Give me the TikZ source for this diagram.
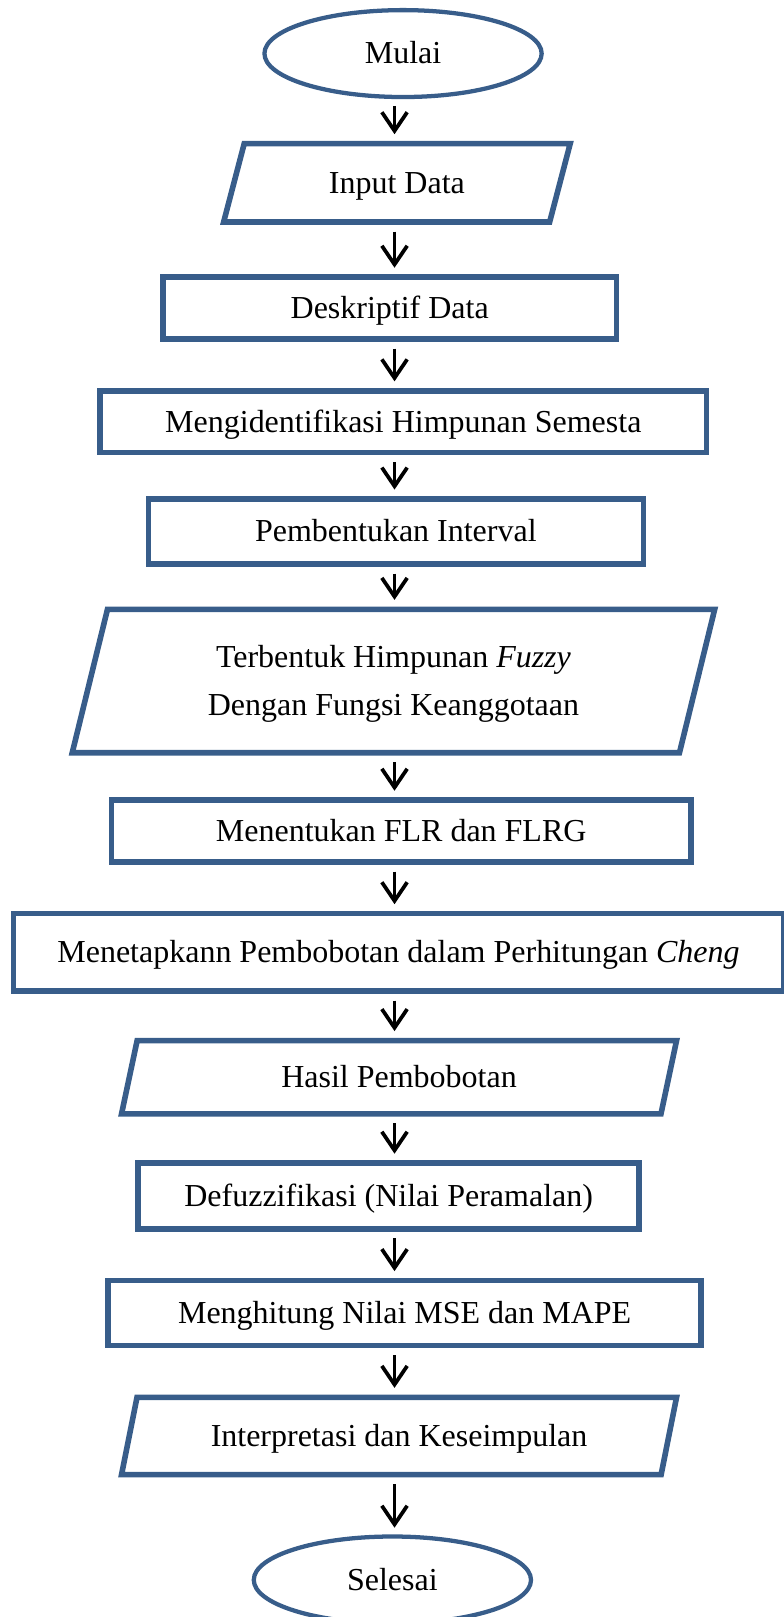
\documentclass[tikz,border=0pt]{standalone}
\usepackage{fontspec}
\setmainfont{Liberation Serif}
\usetikzlibrary{positioning, shapes.geometric, arrows.meta}
\definecolor{flowblue}{RGB}{56,93,138}

\begin{document}
\begin{tikzpicture}[
    font=\fontsize{12}{18}\selectfont,
    startstop/.style={ellipse, draw=flowblue, line width=1.6pt, minimum width=104pt, minimum height=32.6pt, inner sep=0pt, text height=9.7pt, text depth=1.9pt},
    process/.style={rectangle, draw=flowblue, line width=2.1pt, minimum height=23.2pt, inner sep=2pt, text height=9.7pt, text depth=1.9pt},
    io/.style={trapezium, trapezium stretches body, draw=flowblue, line width=2.1pt, inner xsep=2pt, text height=9.7pt, text depth=1.9pt},
    flowarrow/.style={line width=1.4pt, -{Straight Barb[length=7pt,width=9.5pt]}, shorten <=2.5pt, shorten >=2.5pt},
    ]
      \useasboundingbox (0,0) rectangle (294pt,-606.6pt);
      \coordinate (axis) at (148pt,0);

      %Nodes
      \node      (mulai)   [startstop] at (151.2pt,-20.1pt)  {Mulai};
      \node      (input)   [io, minimum width=130pt, inner ysep=8.9pt, trapezium left angle=75.3, trapezium right angle=104.7] at (148.9pt,-68.6pt) {Input Data};
      \node      (desk)    [process, minimum width=170pt] at (146.2pt,-115.6pt) {Deskriptif Data};
      \node      (semesta) [process, minimum width=227.5pt] at (151.3pt,-158.2pt) {Mengidentifikasi Himpunan Semesta};
      \node      (interval)[process, minimum width=185.7pt, minimum height=24.4pt] at (148.5pt,-199.4pt) {Pembentukan Interval};
      \node      (fuzzy)   [io, minimum width=241pt, text height=27.7pt, inner ysep=12.1pt, align=center, trapezium left angle=76.2, trapezium right angle=103.8] at (147.6pt,-255.5pt) {Terbentuk Himpunan \textit{Fuzzy}\\Dengan Fungsi Keanggotaan};
      \node      (flr)     [process, minimum width=217.4pt] at (150.5pt,-311.8pt) {Menentukan FLR dan FLRG};
      \node      (cheng)   [process, minimum width=289pt, minimum height=29.1pt] at (149.5pt,-357.3pt) {Menetapkann Pembobotan dalam Perhitungan \textit{Cheng}};
      \node      (hasil)   [io, minimum width=208.2pt, inner ysep=7.95pt, trapezium left angle=78, trapezium right angle=102] at (149.7pt,-404.1pt) {Hasil Pembobotan};
      \node      (defuzz)  [process, minimum width=188pt, minimum height=24.7pt] at (145.8pt,-448.7pt) {Defuzzifikasi (Nilai Peramalan)};
      \node      (error)   [process, minimum width=222.5pt, minimum height=24.4pt] at (151.8pt,-492.6pt) {Menghitung Nilai MSE dan MAPE};
      \node      (interp)  [io, minimum width=208.2pt, inner ysep=8.7pt, trapezium left angle=78.7, trapezium right angle=101.3] at (149.7pt,-538.7pt) {Interpretasi dan Keseimpulan};
      \node      (selesai) [startstop] at (147.2pt,-592.7pt) {Selesai};

      %Lines
      \draw[flowarrow] (mulai.south -| axis)    to (input.north -| axis);
      \draw[flowarrow] (input.south -| axis)    to (desk.north -| axis);
      \draw[flowarrow] (desk.south -| axis)     to (semesta.north -| axis);
      \draw[flowarrow] (semesta.south -| axis)  to (interval.north -| axis);
      \draw[flowarrow] (interval.south -| axis) to (fuzzy.north -| axis);
      \draw[flowarrow] (fuzzy.south -| axis)    to (flr.north -| axis);
      \draw[flowarrow] (flr.south -| axis)      to (cheng.north -| axis);
      \draw[flowarrow] (cheng.south -| axis)    to (hasil.north -| axis);
      \draw[flowarrow] (hasil.south -| axis)    to (defuzz.north -| axis);
      \draw[flowarrow] (defuzz.south -| axis)   to (error.north -| axis);
      \draw[flowarrow] (error.south -| axis)    to (interp.north -| axis);
      \draw[flowarrow] (interp.south -| axis)   to (selesai.north -| axis);
    \end{tikzpicture}
\end{document}
